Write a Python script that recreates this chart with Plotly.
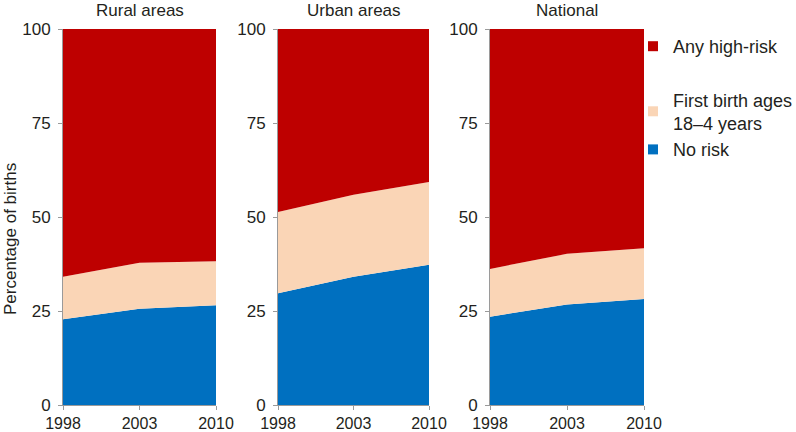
import plotly.graph_objects as go

years = ["1998", "2003", "2010"]
regions = ["Rural areas", "Urban areas", "National"]
series_names = ["No risk", "First birth ages<br>18–4 years", "Any high-risk"]
series_colors = ["#0070C0", "#FAD5B6", "#BE0000"]

no_risk = {
    "Rural areas": [22.8, 25.6, 26.5],
    "Urban areas": [29.7, 34.1, 37.3],
    "National": [23.5, 26.7, 28.2],
}
first_birth = {
    "Rural areas": [11.3, 12.2, 11.7],
    "Urban areas": [21.6, 21.8, 22.0],
    "National": [12.7, 13.5, 13.5],
}
high_risk = {
    "Rural areas": [65.9, 62.2, 61.8],
    "Urban areas": [48.7, 44.1, 40.7],
    "National": [63.8, 59.8, 58.3],
}
y_ticks = [0, 25, 50, 75, 100]

FONT = "Liberation Sans, Arial, Helvetica, sans-serif"
TXT = "#231F20"
AX = "#9A9A9A"

W, H = 796, 432
ml, mr, mt, mb = 63, 152, 29, 27
pw = W - ml - mr
ph = H - mt - mb
panel_px = [(63, 216), (278, 429), (490, 644)]
domains = [((a - ml) / pw, (b - ml) / pw) for a, b in panel_px]

fig = go.Figure()
for i, reg in enumerate(regions):
    xa = "x" if i == 0 else f"x{i+1}"
    ya = "y" if i == 0 else f"y{i+1}"
    for name, vals, col in zip(series_names,
                               [no_risk[reg], first_birth[reg], high_risk[reg]],
                               series_colors):
        fig.add_trace(go.Scatter(
            x=years, y=vals, mode="lines", stackgroup=f"s{i}",
            line=dict(width=0, color=col), fillcolor=col,
            showlegend=False, name=name, xaxis=xa, yaxis=ya,
            hoverinfo="skip"))

# legend entries (square markers)
legend_order = [2, 1, 0]
for k in legend_order:
    fig.add_trace(go.Scatter(
        x=[None], y=[None], mode="markers",
        marker=dict(symbol="square", size=10, color=series_colors[k]),
        name=series_names[k], showlegend=True,
        legendgroup="a" if k == 2 else "b"))

for i, reg in enumerate(regions):
    sfx = "" if i == 0 else str(i + 1)
    fig.layout[f"xaxis{sfx}"] = dict(
        domain=list(domains[i]), type="category", range=[0, 2],
        showline=True, linecolor=AX, linewidth=1,
        ticks="outside", ticklen=4, tickcolor=AX,
        showgrid=False, zeroline=False, automargin=False,
        tickfont=dict(family=FONT, size=16, color=TXT),
        anchor="y" + sfx, fixedrange=True)
    fig.layout[f"yaxis{sfx}"] = dict(
        range=[0, 100], tickvals=y_ticks,
        showline=True, linecolor=AX, linewidth=1,
        ticks="outside", ticklen=4, tickcolor=AX,
        ticklabelstandoff=4,
        showgrid=False, zeroline=False, automargin=False,
        tickfont=dict(family=FONT, size=17, color=TXT),
        anchor="x" + sfx, fixedrange=True)
    fig.add_annotation(
        x=(domains[i][0] + domains[i][1]) / 2, y=1, xref="paper", yref="paper",
        xanchor="center", yanchor="middle",
        yshift=19, text=reg, showarrow=False,
        font=dict(family=FONT, size=17, color=TXT))

fig.add_annotation(
    x=0, y=(H - mb - 239) / ph, xref="paper", yref="paper", xshift=-53,
    xanchor="center", yanchor="middle",
    text="Percentage of births", textangle=-90, showarrow=False,
    font=dict(family=FONT, size=17, color=TXT))

fig.update_layout(
    width=W, height=H,
    margin=dict(l=ml, r=mr, t=mt, b=mb, autoexpand=False),
    paper_bgcolor="white", plot_bgcolor="white",
    font=dict(family=FONT, size=17, color=TXT),
    showlegend=True,
    legend=dict(x=(633 - ml) / pw, xanchor="left",
                y=(H - mb - 28) / ph, yanchor="top",
                xref="paper", yref="paper", traceorder="grouped",
                font=dict(family=FONT, size=18, color=TXT),
                tracegroupgap=27, itemwidth=30,
                bgcolor="rgba(0,0,0,0)"),
)

fig.write_html("out.html")
